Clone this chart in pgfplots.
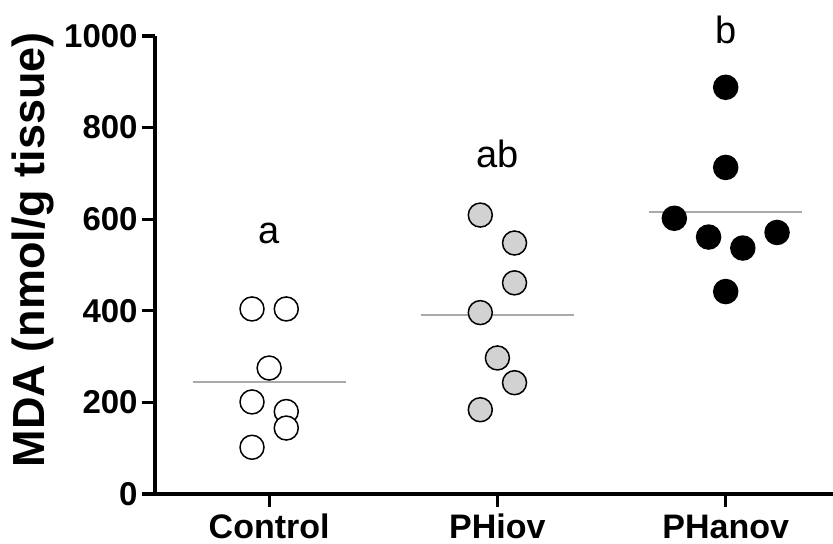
\documentclass[border=0pt]{standalone}
\usepackage{pgfplots}
\pgfplotsset{compat=1.18}
\usetikzlibrary{calc}
\usepackage{fontspec}
\setmainfont{Liberation Sans}
\definecolor{meangray}{RGB}{170,170,170}
\definecolor{fillgray}{RGB}{210,210,210}
\begin{document}
\begin{tikzpicture}
\begin{axis}[
  name=ax,
  scale only axis,
  width=339pt, height=229pt,
  xmin=-0.5, xmax=2.47,
  ymin=0, ymax=1000,
  axis x line=bottom, axis y line=left,
  axis line style={-, line width=1.6pt, black},
  xtick={0,1,2},
  xticklabels={Control,PHiov,PHanov},
  ytick={0,200,400,600,800,1000},
  tick align=outside,
  major tick length=6.5pt,
  tick style={black, line width=1.6pt},
  minor tick num=0,
  /pgf/number format/assume math mode=true,
  /pgf/number format/1000 sep={},
  yticklabel style={font=\fontsize{16.5}{16.5}\selectfont\bfseries, inner sep=2pt},
  xticklabel style={font=\fontsize{17}{17}\selectfont\bfseries, anchor=north, inner sep=0pt, text height=0.72em, text depth=0pt, yshift=-8.5pt},
  ylabel={MDA (nmol/g tissue)},
  ylabel style={font=\fontsize{22.5}{22.5}\selectfont\bfseries, at={(axis description cs:-0.18,0.533)}, anchor=center},
  clip=false,
]
% mean lines
\addplot[meangray, line width=1pt, forget plot] coordinates {(-0.335,244) (0.335,244)};
\addplot[meangray, line width=1pt, forget plot] coordinates {(0.665,391) (1.335,391)};
\addplot[meangray, line width=1pt, forget plot] coordinates {(1.665,616) (2.335,616)};
% Control
\addplot[only marks, mark=*, mark size=6pt, mark options={fill=white, draw=black, line width=0.75pt}]
 coordinates {(-0.075,404) (0.075,404) (0,275) (-0.075,201) (0.075,180) (0.075,144) (-0.075,102)};
% PHiov
\addplot[only marks, mark=*, mark size=6pt, mark options={fill=fillgray, draw=black, line width=0.75pt}]
 coordinates {(0.925,609) (1.075,548) (1.075,461) (0.925,396) (1,297) (1.075,243) (0.925,184)};
% PHanov
\addplot[only marks, mark=*, mark size=6pt, mark options={fill=black, draw=black, line width=0.75pt}]
 coordinates {(2,888) (2,713) (1.775,602) (1.925,561) (2.075,537) (2.225,571) (2,442)};
\node[font=\fontsize{19}{19}\selectfont] at (axis cs:0,569) {a};
\node[font=\fontsize{19}{19}\selectfont] at (axis cs:1,743) {ab};
\node[font=\fontsize{19}{19}\selectfont] at (axis cs:2,1013) {b};
\end{axis}
\pgfresetboundingbox
\path[use as bounding box] ($(ax.south west)+(-77.5pt,-25pt)$) rectangle ($(ax.north east)+(0pt,18pt)$);
\end{tikzpicture}
\end{document}
